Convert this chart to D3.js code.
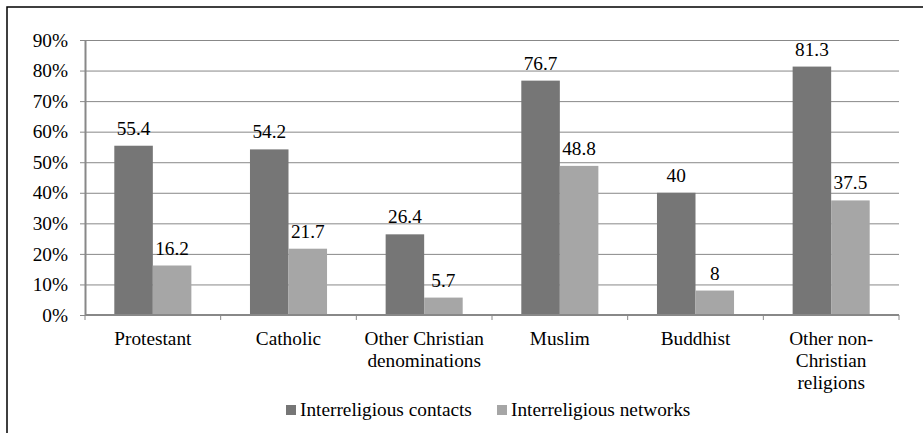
<!DOCTYPE html>
<html>
<head>
<meta charset="utf-8">
<script src="https://cdn.jsdelivr.net/npm/d3@7"></script>
<style>
  html, body { margin: 0; padding: 0; background: #fff; }
  svg { display: block; }
</style>
</head>
<body>
<div id="chart"></div>
<script>
const categories = [
  ['Protestant'],
  ['Catholic'],
  ['Other Christian', 'denominations'],
  ['Muslim'],
  ['Buddhist'],
  ['Other non-', 'Christian', 'religions']
]
const contacts = [55.4, 54.2, 26.4, 76.7, 40, 81.3]
const networks = [16.2, 21.7, 5.7, 48.8, 8, 37.5]
const seriesNames = ['Interreligious contacts', 'Interreligious networks']
const yTicks = [0, 10, 20, 30, 40, 50, 60, 70, 80, 90]

const width = 923
const height = 433
const margin = { top: 40, bottom: 118, left: 85, right: 24 }
const colors = ['#767676', '#a6a6a6']
const font = 'Liberation Serif'
const fontSize = 19.3

const svg = d3.select('#chart')
  .append('svg')
  .attr('width', width)
  .attr('height', height)
  .attr('font-family', font)

// frame, clipped by the window on the right and bottom
svg.append('rect')
  .attr('x', 7).attr('y', 7)
  .attr('width', width + 20).attr('height', height + 20)
  .attr('fill', 'none')
  .attr('stroke', '#000')
  .attr('stroke-width', 1.5)

const x = d3.scaleBand()
  .domain(d3.range(categories.length))
  .range([margin.left, width - margin.right])

const y = d3.scaleLinear()
  .domain([0, 90])
  .range([height - margin.bottom, margin.top])

// grid + y axis
const yAxis = g => g
  .attr('transform', `translate(${margin.left},0)`)
  .call(d3.axisLeft(y).tickValues(yTicks).tickFormat(d => d + '%').tickSize(5).tickPadding(12))
  .attr('font-family', font)
  .call(g => g.select('.domain').remove())
  .call(g => g.selectAll('.tick line').attr('stroke', '#888'))
  .call(g => g.selectAll('.tick').filter(d => d > 0).append('line')
    .attr('x1', 0).attr('x2', width - margin.right - margin.left)
    .attr('stroke', '#888'))
  .call(g => g.selectAll('.tick text')
    .attr('font-family', font)
    .attr('font-size', fontSize).attr('fill', '#000'))

svg.append('g').attr('class', 'y').call(yAxis)

// vertical axis line
svg.append('line')
  .attr('x1', margin.left + 0.5).attr('x2', margin.left + 0.5)
  .attr('y1', y(90)).attr('y2', y(0))
  .attr('stroke', '#888').attr('stroke-width', 2)

const barW = x.bandwidth() * 0.284

const group = svg.append('g').attr('class', 'bars')
  .selectAll('g')
  .data(categories.map((c, i) => ({ i, vals: [contacts[i], networks[i]] })))
  .join('g')
  .attr('transform', d => `translate(${x(d.i) + x.bandwidth() / 2},0)`)

group.selectAll('rect')
  .data(d => d.vals)
  .join('rect')
  .attr('x', (v, j) => j === 0 ? -barW : 0)
  .attr('width', barW)
  .attr('y', v => y(v))
  .attr('height', v => y(0) - y(v))
  .attr('fill', (v, j) => colors[j])

group.selectAll('text')
  .data(d => d.vals)
  .join('text')
  .attr('x', (v, j) => j === 0 ? -barW / 2 : barW / 2)
  .attr('y', v => y(v) - 11)
  .attr('text-anchor', 'middle')
  .attr('font-family', font)
  .attr('font-size', fontSize)
  .text(v => v)

// x axis line and ticks
const xAxisY = y(0)
svg.append('line')
  .attr('x1', margin.left).attr('x2', width - margin.right)
  .attr('y1', xAxisY).attr('y2', xAxisY)
  .attr('stroke', '#888').attr('stroke-width', 2)

svg.append('g').selectAll('line')
  .data(d3.range(categories.length + 1))
  .join('line')
  .attr('x1', i => i < categories.length ? x(i) : width - margin.right)
  .attr('x2', i => i < categories.length ? x(i) : width - margin.right)
  .attr('y1', xAxisY).attr('y2', xAxisY + 5)
  .attr('stroke', '#888')

// category labels
svg.append('g').selectAll('text')
  .data(categories)
  .join('text')
  .attr('x', (c, i) => x(i) + x.bandwidth() / 2)
  .attr('y', xAxisY + 30)
  .attr('text-anchor', 'middle')
  .attr('font-family', font)
  .attr('font-size', fontSize)
  .selectAll('tspan')
  .data(c => c)
  .join('tspan')
  .attr('x', function () { return this.parentNode.getAttribute('x') })
  .attr('dy', (t, k) => k === 0 ? 0 : 22)
  .text(t => t)

// legend
const legendX = [286, 497]
const legend = svg.append('g').selectAll('g')
  .data(seriesNames)
  .join('g')
  .attr('transform', (s, i) => `translate(${legendX[i]},410)`)

legend.append('rect')
  .attr('x', 0).attr('y', -5)
  .attr('width', 10).attr('height', 10)
  .attr('fill', (s, i) => colors[i])

legend.append('text')
  .attr('x', 14).attr('y', 6)
  .attr('font-family', font)
  .attr('font-size', fontSize)
  .text(s => s)
</script>
</body>
</html>
